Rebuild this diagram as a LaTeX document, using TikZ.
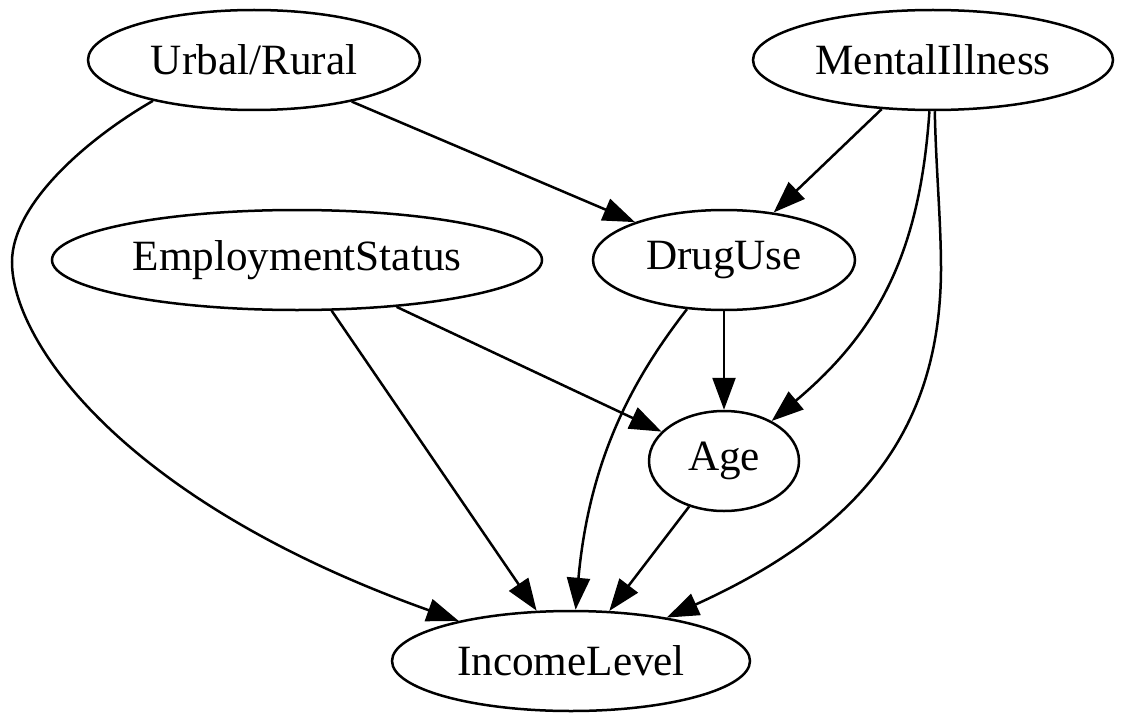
\documentclass[tikz,border=0pt]{standalone}
\usepackage{fontspec}
\setmainfont{Liberation Serif}
\usetikzlibrary{arrows.meta,shapes.geometric}

\begin{document}
\begin{tikzpicture}[x=0.5pt, y=-0.5pt, line width=1.25pt,
    every node/.style={font=\fontsize{21.6}{26}\selectfont},
    var/.style={ellipse, draw, line width=1.25pt, inner sep=0pt, minimum height=50pt},
    edge/.style={-{Triangle[length=16pt, width=11.5pt]}}]
    \path[use as bounding box] (0,0) rectangle (1124,722);

    % Variables
    \node[var, minimum width=166pt] (urb) at (254,60) {Urbal/Rural};
    \node[var, minimum width=180pt] (mnt) at (933,60) {MentalIllness};
    \node[var, minimum width=245pt] (emp) at (297,260) {EmploymentStatus};
    \node[var, minimum width=131pt] (drg) at (724,260) {DrugUse};
    \node[var, minimum width=75pt]  (age) at (724,461) {Age};
    \node[var, minimum width=179pt] (inc) at (571,661) {IncomeLevel};

    % Straight edges
    \draw[edge] (urb) -- (drg);
    \draw[edge] (mnt) -- (drg);
    \draw[edge] (emp) -- (age);
    \draw[edge] (emp) -- (inc);
    \draw[edge] (drg) -- (age);
    \draw[edge] (age) -- (inc);

    % Curved edges
    \draw[edge] (urb.202) .. controls (85,140) and (12,205) .. (12,262)
        .. controls (12,340) and (120,500) .. (inc);
    \draw[edge] (mnt.266) .. controls (920,250) and (880,330) .. (age);
    \draw[edge] (mnt.272) .. controls (936,170) and (941,220) .. (941,270)
        .. controls (940,430) and (860,530) .. (inc);
    \draw[edge] (drg.233) .. controls (640,370) and (590,450) .. (inc);
\end{tikzpicture}
\end{document}
